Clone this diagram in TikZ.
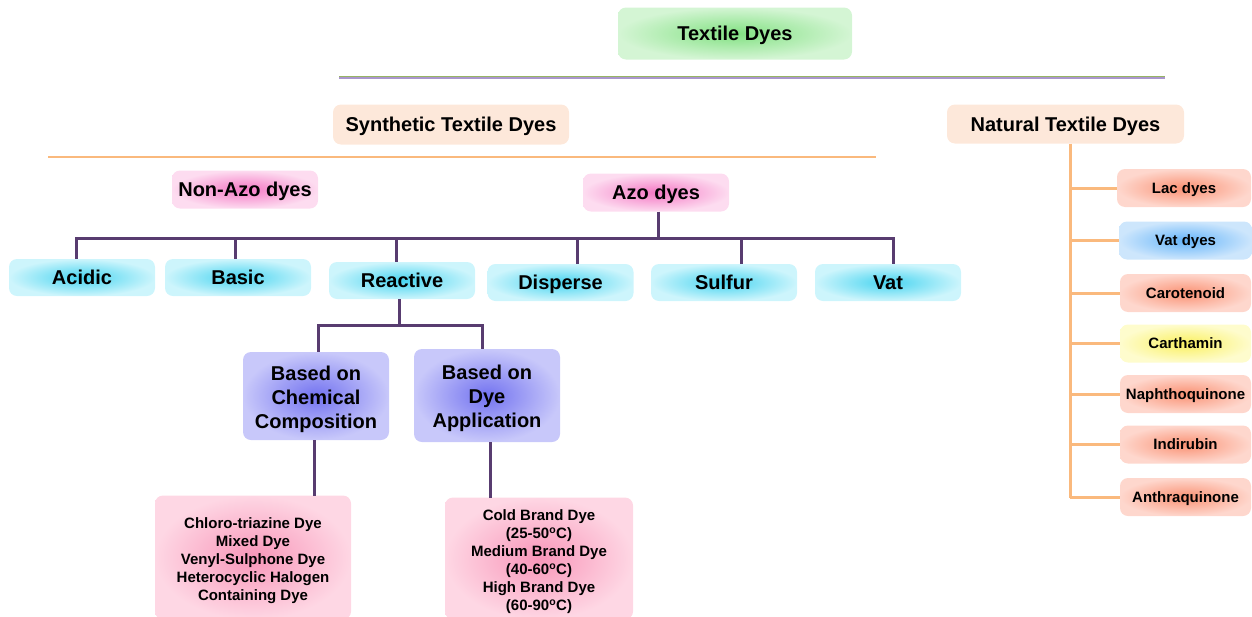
\documentclass[tikz,border=0pt]{standalone}
\usepackage{fontspec}
\setmainfont{Liberation Sans}
\begin{document}
\begin{tikzpicture}[x=1pt,y=-1pt,
  box/.style={rounded corners=8pt,inner sep=0pt,align=center},
  fs/.style={font=\pgfmathsetmacro\fsb{#1*1.2}\fontsize{#1}{\fsb}\selectfont\bfseries},
  big/.style={fs=20,text height=14.4pt,text depth=0pt},
  small/.style={fs=15,text height=10.8pt,text depth=0pt},
  boxtext/.style={label={[fs=#1,align=center,yshift=-3pt]center:\boxlines}},
  greenbox/.style={box,inner color={rgb,255:red,130;green,225;blue,130},outer color={rgb,255:red,212;green,245;blue,212}},
  peachbox/.style={box,fill={rgb,255:red,253;green,232;blue,218}},
  pinkbox/.style={box,inner color={rgb,255:red,244;green,120;blue,196},outer color={rgb,255:red,253;green,220;blue,240}},
  cyanbox/.style={box,inner color={rgb,255:red,70;green,212;blue,240},outer color={rgb,255:red,205;green,245;blue,252}},
  lavbox/.style={box,inner color={rgb,255:red,115;green,115;blue,240},outer color={rgb,255:red,200;green,200;blue,250}},
  rosebox/.style={box,inner color={rgb,255:red,248;green,150;blue,185},outer color={rgb,255:red,254;green,215;blue,228}},
  salbox/.style={box,inner color={rgb,255:red,250;green,145;blue,115},outer color={rgb,255:red,254;green,215;blue,205}},
  bluebox/.style={box,inner color={rgb,255:red,100;green,180;blue,250},outer color={rgb,255:red,205;green,230;blue,252}},
  yelbox/.style={box,inner color={rgb,255:red,250;green,240;blue,95},outer color={rgb,255:red,254;green,252;blue,205}},
  purp/.style={draw={rgb,255:red,88;green,60;blue,112},line width=3pt},
  orng/.style={draw={rgb,255:red,250;green,185;blue,125},line width=3pt},
]
\useasboundingbox (0,0) rectangle (1252,616);

% top level
\node[greenbox,big,minimum width=234,minimum height=52] (root) at (735,33.5) {Textile Dyes};
\draw[line width=0.7pt,draw={rgb,255:red,150;green,180;blue,100}] (339,76.6) -- (1165,76.6);
\draw[line width=1.4pt,draw={rgb,255:red,170;green,150;blue,205}] (339,77.8) -- (1165,77.8);

% synthetic branch
\node[peachbox,big,minimum width=236,minimum height=40] (syn) at (451,124.5) {Synthetic Textile Dyes};
\draw[line width=2.6pt,draw={rgb,255:red,250;green,185;blue,125}] (48,157) -- (876,157);
\node[pinkbox,big,minimum width=146,minimum height=38] (nonazo) at (245,189.5) {Non-Azo dyes};
\node[pinkbox,big,minimum width=146,minimum height=38] (azo) at (656,192.5) {Azo dyes};

\node[cyanbox,big,minimum width=146,minimum height=37] (acidic) at (82,277.5) {Acidic};
\node[cyanbox,big,minimum width=146,minimum height=37] (basic) at (238,277.5) {Basic};
\node[cyanbox,big,minimum width=146,minimum height=37] (reactive) at (402,280.5) {Reactive};
\node[cyanbox,big,minimum width=146,minimum height=37] (disperse) at (560.5,282.5) {Disperse};
\node[cyanbox,big,minimum width=146,minimum height=37] (sulfur) at (724,282.5) {Sulfur};
\node[cyanbox,big,minimum width=146,minimum height=37] (vat) at (888,282.5) {Vat};

\coordinate (dA) at (76,238);
\coordinate (dB) at (235,238);
\coordinate (dR) at (396,238);
\coordinate (dD) at (577,238);
\coordinate (dS) at (741,238);
\coordinate (dV) at (893,238);
\draw[purp] (azo.south -| 658,0) -- (658,238);
\draw[purp,line cap=rect] (dA) -- (dV);
\draw[purp] (dA) -- (dA |- acidic.north);
\draw[purp] (dB) -- (dB |- basic.north);
\draw[purp] (dR) -- (dR |- reactive.north);
\draw[purp] (dD) -- (dD |- disperse.north);
\draw[purp] (dS) -- (dS |- sulfur.north);
\draw[purp] (dV) -- (dV |- vat.north);

% reactive subclasses
\def\boxlines{Based on\\Chemical\\Composition}
\node[lavbox,boxtext=20,minimum width=146,minimum height=88] (chem) at (316,396) {};
\def\boxlines{Based on\\Dye\\Application}
\node[lavbox,boxtext=20,minimum width=146,minimum height=93] (appl) at (487,395.5) {};
\coordinate (rL) at (318,325);
\coordinate (rR) at (482,325);
\draw[purp] (reactive.south -| 399,0) -- (399,325);
\draw[purp,line cap=rect] (rL) -- (rR);
\draw[purp] (rL) -- (rL |- chem.north);
\draw[purp] (rR) -- (rR |- appl.north);

\def\boxlines{Chloro-triazine Dye\\Mixed Dye\\Venyl-Sulphone Dye\\Heterocyclic Halogen\\Containing Dye}
\node[rosebox,boxtext=15,minimum width=196,minimum height=124] (chemlist) at (253,557.5) {};
\def\boxlines{Cold Brand Dye\\(25-50\textsuperscript{o}C)\\Medium Brand Dye\\(40-60\textsuperscript{o}C)\\High Brand Dye\\(60-90\textsuperscript{o}C)}
\node[rosebox,boxtext=15,minimum width=188,minimum height=122] (appllist) at (539,558.5) {};
\draw[purp] (chem.south -| 314,0) -- (314,496);
\draw[purp] (appl.south -| 490,0) -- (490,498);

% natural branch
\node[peachbox,big,minimum width=237,minimum height=39] (nat) at (1065.5,124) {Natural Textile Dyes};
\node[salbox,small,minimum width=134,minimum height=38] (lac) at (1184,188) {Lac dyes};
\node[bluebox,small,minimum width=133,minimum height=38] (vatd) at (1185.5,240.5) {Vat dyes};
\node[salbox,small,minimum width=131,minimum height=38] (caro) at (1185.5,293) {Carotenoid};
\node[yelbox,small,minimum width=131,minimum height=38] (cart) at (1185.5,343.5) {Carthamin};
\node[salbox,small,minimum width=131,minimum height=38] (naph) at (1185.5,394) {Naphthoquinone};
\node[salbox,small,minimum width=131,minimum height=38] (indi) at (1185.5,444.5) {Indirubin};
\node[salbox,small,minimum width=131,minimum height=38] (anth) at (1185.5,497) {Anthraquinone};

\coordinate (nb) at (1070,498);
\draw[orng] (nat.south -| nb) -- (nb);
\foreach \n in {lac,vatd,caro,cart,naph,indi,anth}
  \draw[orng] (\n.west -| nb) -- (\n.west);
\end{tikzpicture}
\end{document}
